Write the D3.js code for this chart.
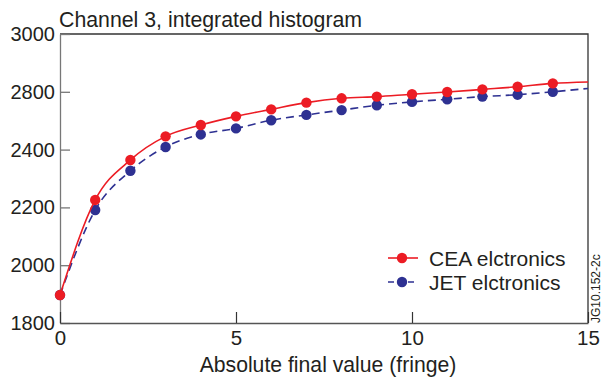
<!DOCTYPE html>
<html>
<head>
<meta charset="utf-8">
<script src="https://cdn.jsdelivr.net/npm/d3@7"></script>
<style>
  html, body { margin: 0; padding: 0; background: #fff; }
  svg { display: block; font-family: "Liberation Sans", Arial, Helvetica, sans-serif; }
</style>
</head>
<body>
<svg id="chart" width="604" height="380"></svg>
<script>
// Integrated histogram, channel 3: output vs. absolute final value (fringe)
const fringe = [0, 1, 2, 3, 4, 5, 6, 7, 8, 9, 10, 11, 12, 13, 14, 15];
const ceaValues = [1916, 2311, 2477, 2575, 2622, 2658, 2687, 2715, 2733, 2740, 2750, 2759, 2770, 2781, 2795, 2801];
const jetValues = [1916, 2269, 2432, 2531, 2583, 2608, 2642, 2664, 2684, 2704, 2718, 2729, 2740, 2748, 2760, 2774];
const measuredCount = 15; // markers drawn for fringe 0..14; the curve runs on to 15
const xTicks = [0, 5, 10, 15];
const yTickLabels = ["1800", "2000", "2200", "2400", "2800", "3000"];
const seriesNames = ["CEA elctronics", "JET elctronics"];

const svg = d3.select("#chart");
const m = { left: 60, right: 588, top: 34, bottom: 323 };

const x = d3.scaleLinear().domain([0, 15]).range([m.left, m.right]);
const y = d3.scaleLinear().domain([1800, 3000]).range([m.bottom, m.top]);
const yTickValues = d3.range(yTickLabels.length).map(i => 1800 + i * (1200 / (yTickLabels.length - 1)));

const red = "#ec1c24";
const blue = "#2e3192";

// frame: top and right edges
svg.append("path")
  .attr("d", `M${m.left},${m.top}H${m.right}V${m.bottom}`)
  .attr("fill", "none").attr("stroke", "#333").attr("stroke-width", 1.3);

// y axis (ticks point inward)
const gy = svg.append("g")
  .attr("transform", `translate(${m.left},0)`)
  .call(d3.axisLeft(y).tickValues(yTickValues).tickSize(-10).tickSizeOuter(0).tickPadding(5)
    .tickFormat((d, i) => yTickLabels[i]));
gy.select(".domain").attr("stroke", "#777").attr("stroke-width", 1.3);
gy.selectAll(".tick line").attr("stroke", "#777").attr("stroke-width", 1.3);
gy.selectAll(".tick text").attr("font-size", 20).attr("fill", "#231f20")
  .attr("font-family", "Liberation Sans, Arial, sans-serif");

// x axis (ticks point inward)
const gx = svg.append("g")
  .attr("transform", `translate(0,${m.bottom})`)
  .call(d3.axisBottom(x).tickValues(xTicks).tickSize(-11).tickSizeOuter(0).tickPadding(7)
    .tickFormat(d3.format("d")));
gx.select(".domain").attr("stroke", "#555").attr("stroke-width", 1.3);
gx.selectAll(".tick line").attr("stroke", "#333").attr("stroke-width", 1.2);
gx.selectAll(".tick text").attr("font-size", 20.5).attr("fill", "#231f20")
  .attr("font-family", "Liberation Sans, Arial, sans-serif");

// title and axis label
svg.append("text").attr("x", 59).attr("y", 27)
  .attr("font-size", 21.3).attr("fill", "#231f20")
  .text("Channel 3, integrated histogram");
svg.append("text").attr("x", 328).attr("y", 372).attr("text-anchor", "middle")
  .attr("font-size", 21.2).attr("fill", "#231f20")
  .text("Absolute final value (fringe)");

// figure reference, vertical at right edge
svg.append("text")
  .attr("transform", "translate(600,323) rotate(-90)")
  .attr("font-size", 12).attr("fill", "#231f20")
  .text("JG10.152-2c");

const line = d3.line().x((d, i) => x(fringe[i])).y(d => y(d)).curve(d3.curveMonotoneX);

// JET series (dashed, blue) drawn first so CEA sits on top at shared start point
svg.append("path").datum(jetValues)
  .attr("d", line).attr("fill", "none")
  .attr("stroke", blue).attr("stroke-width", 1.6).attr("stroke-dasharray", "8,5");
svg.append("g").selectAll("circle")
  .data(jetValues.slice(0, measuredCount))
  .join("circle")
  .attr("cx", (d, i) => x(fringe[i])).attr("cy", d => y(d)).attr("r", 5.2)
  .attr("fill", blue);

svg.append("path").datum(ceaValues)
  .attr("d", line).attr("fill", "none")
  .attr("stroke", red).attr("stroke-width", 1.6);
svg.append("g").selectAll("circle")
  .data(ceaValues.slice(0, measuredCount))
  .join("circle")
  .attr("cx", (d, i) => x(fringe[i])).attr("cy", d => y(d)).attr("r", 5.2)
  .attr("fill", red);

// legend
const legend = svg.append("g");
const legendItems = [
  { name: seriesNames[0], color: red, dash: null, y: 258 },
  { name: seriesNames[1], color: blue, dash: "6,4", y: 282 }
];
legendItems.forEach(it => {
  legend.append("line").attr("x1", 388).attr("x2", 418).attr("y1", it.y).attr("y2", it.y)
    .attr("stroke", it.color).attr("stroke-width", 1.6)
    .attr("stroke-dasharray", it.dash);
  legend.append("circle").attr("cx", 402).attr("cy", it.y).attr("r", 5.2).attr("fill", it.color);
  legend.append("text").attr("x", 429).attr("y", it.y + 7.5)
    .attr("font-size", 21).attr("fill", "#231f20").text(it.name);
});
</script>
</body>
</html>
